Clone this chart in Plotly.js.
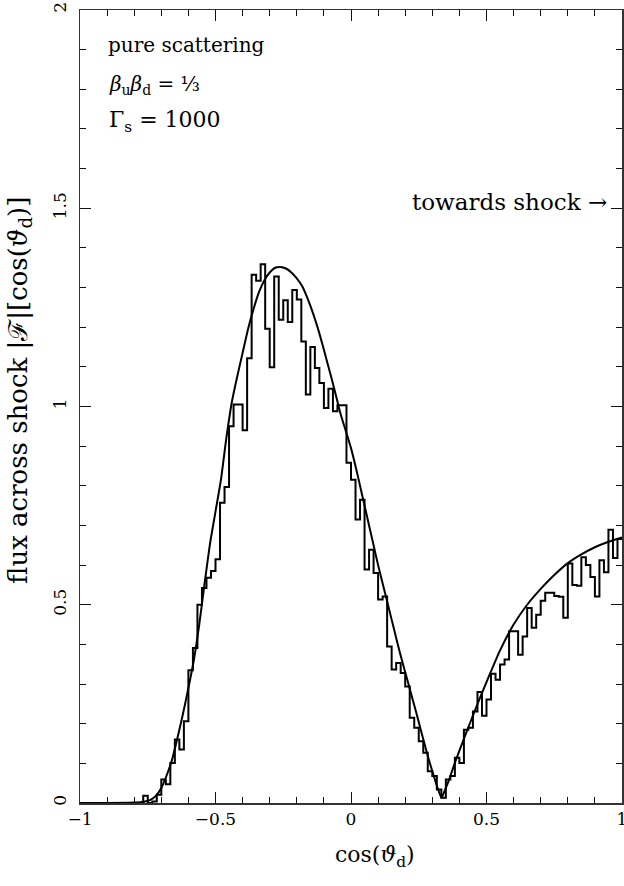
<!DOCTYPE html>
<html>
<head>
<meta charset="utf-8">
<script src="https://cdn.plot.ly/plotly-3.0.1.min.js"></script>
<style>html,body{margin:0;padding:0;background:#fff;}#chart{width:624px;height:886px;}</style>
</head>
<body>
<div id="chart"></div>
<script>
// Histogram: 120 bins of width 1/60 across cos(theta_d) in [-1, 1]
const binLow = -1;
const binCount = 120;
const binWidth = 2 / binCount;
const histValues = [
  0, 0, 0, 0, 0, 0, 0, 0, 0, 0,
  0, 0, 0, 0, 0.018, 0, 0.004, 0.021, 0.059, 0.047,
  0.101, 0.160, 0.135, 0.206, 0.335, 0.391, 0.500, 0.542, 0.568, 0.585,
  0.615, 0.757, 0.797, 0.950, 1.005, 1.005, 0.940, 1.122, 1.332, 1.317,
  1.359, 1.196, 1.099, 1.328, 1.219, 1.268, 1.213, 1.294, 1.270, 1.164,
  1.030, 1.150, 1.097, 1.059, 0.996, 1.045, 0.988, 1.003, 1.003, 0.858,
  0.815, 0.715, 0.765, 0.589, 0.639, 0.580, 0.513, 0.521, 0.395, 0.337,
  0.353, 0.328, 0.294, 0.215, 0.190, 0.156, 0.127, 0.080, 0.068, 0.034,
  0.013, 0.059, 0.068, 0.114, 0.101, 0.185, 0.190, 0.231, 0.280, 0.220,
  0.261, 0.326, 0.311, 0.349, 0.362, 0.433, 0.433, 0.374, 0.420, 0.492,
  0.442, 0.475, 0.510, 0.530, 0.530, 0.522, 0.520, 0.467, 0.604, 0.550,
  0.548, 0.620, 0.600, 0.570, 0.521, 0.612, 0.582, 0.689, 0.618, 0.666
];

// Analytic curve
const curveX = [-1.0, -0.9, -0.8, -0.76, -0.74, -0.72, -0.70, -0.68, -0.66, -0.64,
  -0.62, -0.60, -0.58, -0.56, -0.54, -0.52, -0.50, -0.48, -0.46, -0.44,
  -0.42, -0.40, -0.38, -0.36, -0.34, -0.32, -0.30, -0.28, -0.26, -0.24,
  -0.22, -0.20, -0.18, -0.16, -0.14, -0.12, -0.10, -0.08, -0.06, -0.04,
  -0.02, 0.0, 0.02, 0.04, 0.06, 0.08, 0.10, 0.12, 0.14, 0.16,
  0.18, 0.20, 0.22, 0.24, 0.26, 0.28, 0.30, 0.32, 0.334, 0.34,
  0.35, 0.36, 0.38, 0.40, 0.42, 0.44, 0.46, 0.48, 0.50, 0.55,
  0.60, 0.65, 0.70, 0.75, 0.80, 0.85, 0.90, 0.95, 1.0];
const curveY = [0, 0, 0.001, 0.004, 0.008, 0.018, 0.038, 0.07, 0.11, 0.165,
  0.225, 0.29, 0.36, 0.45, 0.555, 0.655, 0.735, 0.815, 0.92, 1.01,
  1.075, 1.135, 1.195, 1.245, 1.288, 1.318, 1.338, 1.35, 1.352, 1.348,
  1.338, 1.323, 1.303, 1.272, 1.235, 1.192, 1.143, 1.092, 1.04, 0.985,
  0.94, 0.895, 0.84, 0.78, 0.72, 0.66, 0.60, 0.545, 0.49, 0.435,
  0.38, 0.33, 0.28, 0.23, 0.178, 0.127, 0.08, 0.037, 0.013, 0.022,
  0.038, 0.055, 0.095, 0.132, 0.168, 0.203, 0.238, 0.272, 0.305, 0.385,
  0.45, 0.50, 0.54, 0.575, 0.605, 0.627, 0.645, 0.659, 0.67];

const xTickVals = [-1, -0.5, 0, 0.5, 1];
const xTickText = ['\u22121', '\u22120.5', '0', '0.5', '1'];
const yTickVals = [0, 0.5, 1, 1.5, 2];
const yTickText = ['0', '0.5', '1', '1.5', '2'];

// build step outline from the bin values
const stepX = [], stepY = [];
for (let i = 0; i < histValues.length; i++) {
  stepX.push(binLow + i * binWidth);
  stepY.push(histValues[i]);
}
stepX.push(binLow + histValues.length * binWidth);
stepY.push(histValues[histValues.length - 1]);

const serif = 'DejaVu Serif, Liberation Serif, serif';

const traces = [
  {x: stepX, y: stepY, type: 'scatter', mode: 'lines',
   line: {shape: 'hv', color: '#000', width: 2}, hoverinfo: 'skip'},
  {x: curveX, y: curveY, type: 'scatter', mode: 'lines',
   line: {shape: 'spline', smoothing: 0.6, color: '#000', width: 2}, hoverinfo: 'skip'}
];

const axisCommon = {
  showgrid: false, zeroline: false, showline: true, linecolor: '#333', linewidth: 1.5,
  mirror: 'ticks', ticks: 'inside', ticklen: 11, tickwidth: 1, tickcolor: '#111',
  minor: {ticks: 'inside', ticklen: 6, dtick: 0.1, tickwidth: 1, tickcolor: '#111'},
  tickfont: {family: serif, size: 17, color: '#000'},
  ticklabeloverflow: 'allow'
};

const layout = {
  width: 624, height: 886,
  margin: {l: 80, r: 2, t: 10, b: 83},
  paper_bgcolor: '#fff', plot_bgcolor: '#fff',
  showlegend: false,
  xaxis: Object.assign({}, axisCommon, {range: [-1, 1], tickvals: xTickVals, ticktext: xTickText}),
  yaxis: Object.assign({}, axisCommon, {range: [0, 2], tickvals: yTickVals, ticktext: yTickText,
    tickangle: -90, ticklabelstandoff: 6}),
  annotations: [
    {text: 'pure scattering', x: -0.905, y: 1.912, xref: 'x', yref: 'y', xanchor: 'left', yanchor: 'middle',
     showarrow: false, font: {family: serif, size: 20, color: '#000'}},
    {text: '<i>β</i><sub>u</sub><i>β</i><sub>d</sub> = ⅓', x: -0.9, y: 1.811, xref: 'x', yref: 'y', xanchor: 'left', yanchor: 'middle',
     showarrow: false, font: {family: serif, size: 20, color: '#000'}},
    {text: 'Γ<sub>s</sub> = 1000', x: -0.9, y: 1.718, xref: 'x', yref: 'y', xanchor: 'left', yanchor: 'middle',
     showarrow: false, font: {family: serif, size: 22, color: '#000'}},
    {text: 'towards shock →', x: 0.952, y: 1.515, xref: 'x', yref: 'y', xanchor: 'right', yanchor: 'middle',
     showarrow: false, font: {family: serif, size: 23, color: '#000'}},
    {text: 'cos(<i>ϑ</i><sub>d</sub>)', x: 0.544, y: -0.068, xref: 'paper', yref: 'paper', xanchor: 'center', yanchor: 'middle',
     showarrow: false, font: {family: serif, size: 22, color: '#000'}},
    {text: 'flux across shock |ℱ|[cos(<i>ϑ</i><sub>d</sub>)]', x: -0.112, y: 0.52, xref: 'paper', yref: 'paper',
     xanchor: 'center', yanchor: 'middle', textangle: -90,
     showarrow: false, font: {family: serif, size: 26, color: '#000'}}
  ]
};

Plotly.newPlot('chart', traces, layout, {staticPlot: true, displayModeBar: false});
</script>
</body>
</html>
